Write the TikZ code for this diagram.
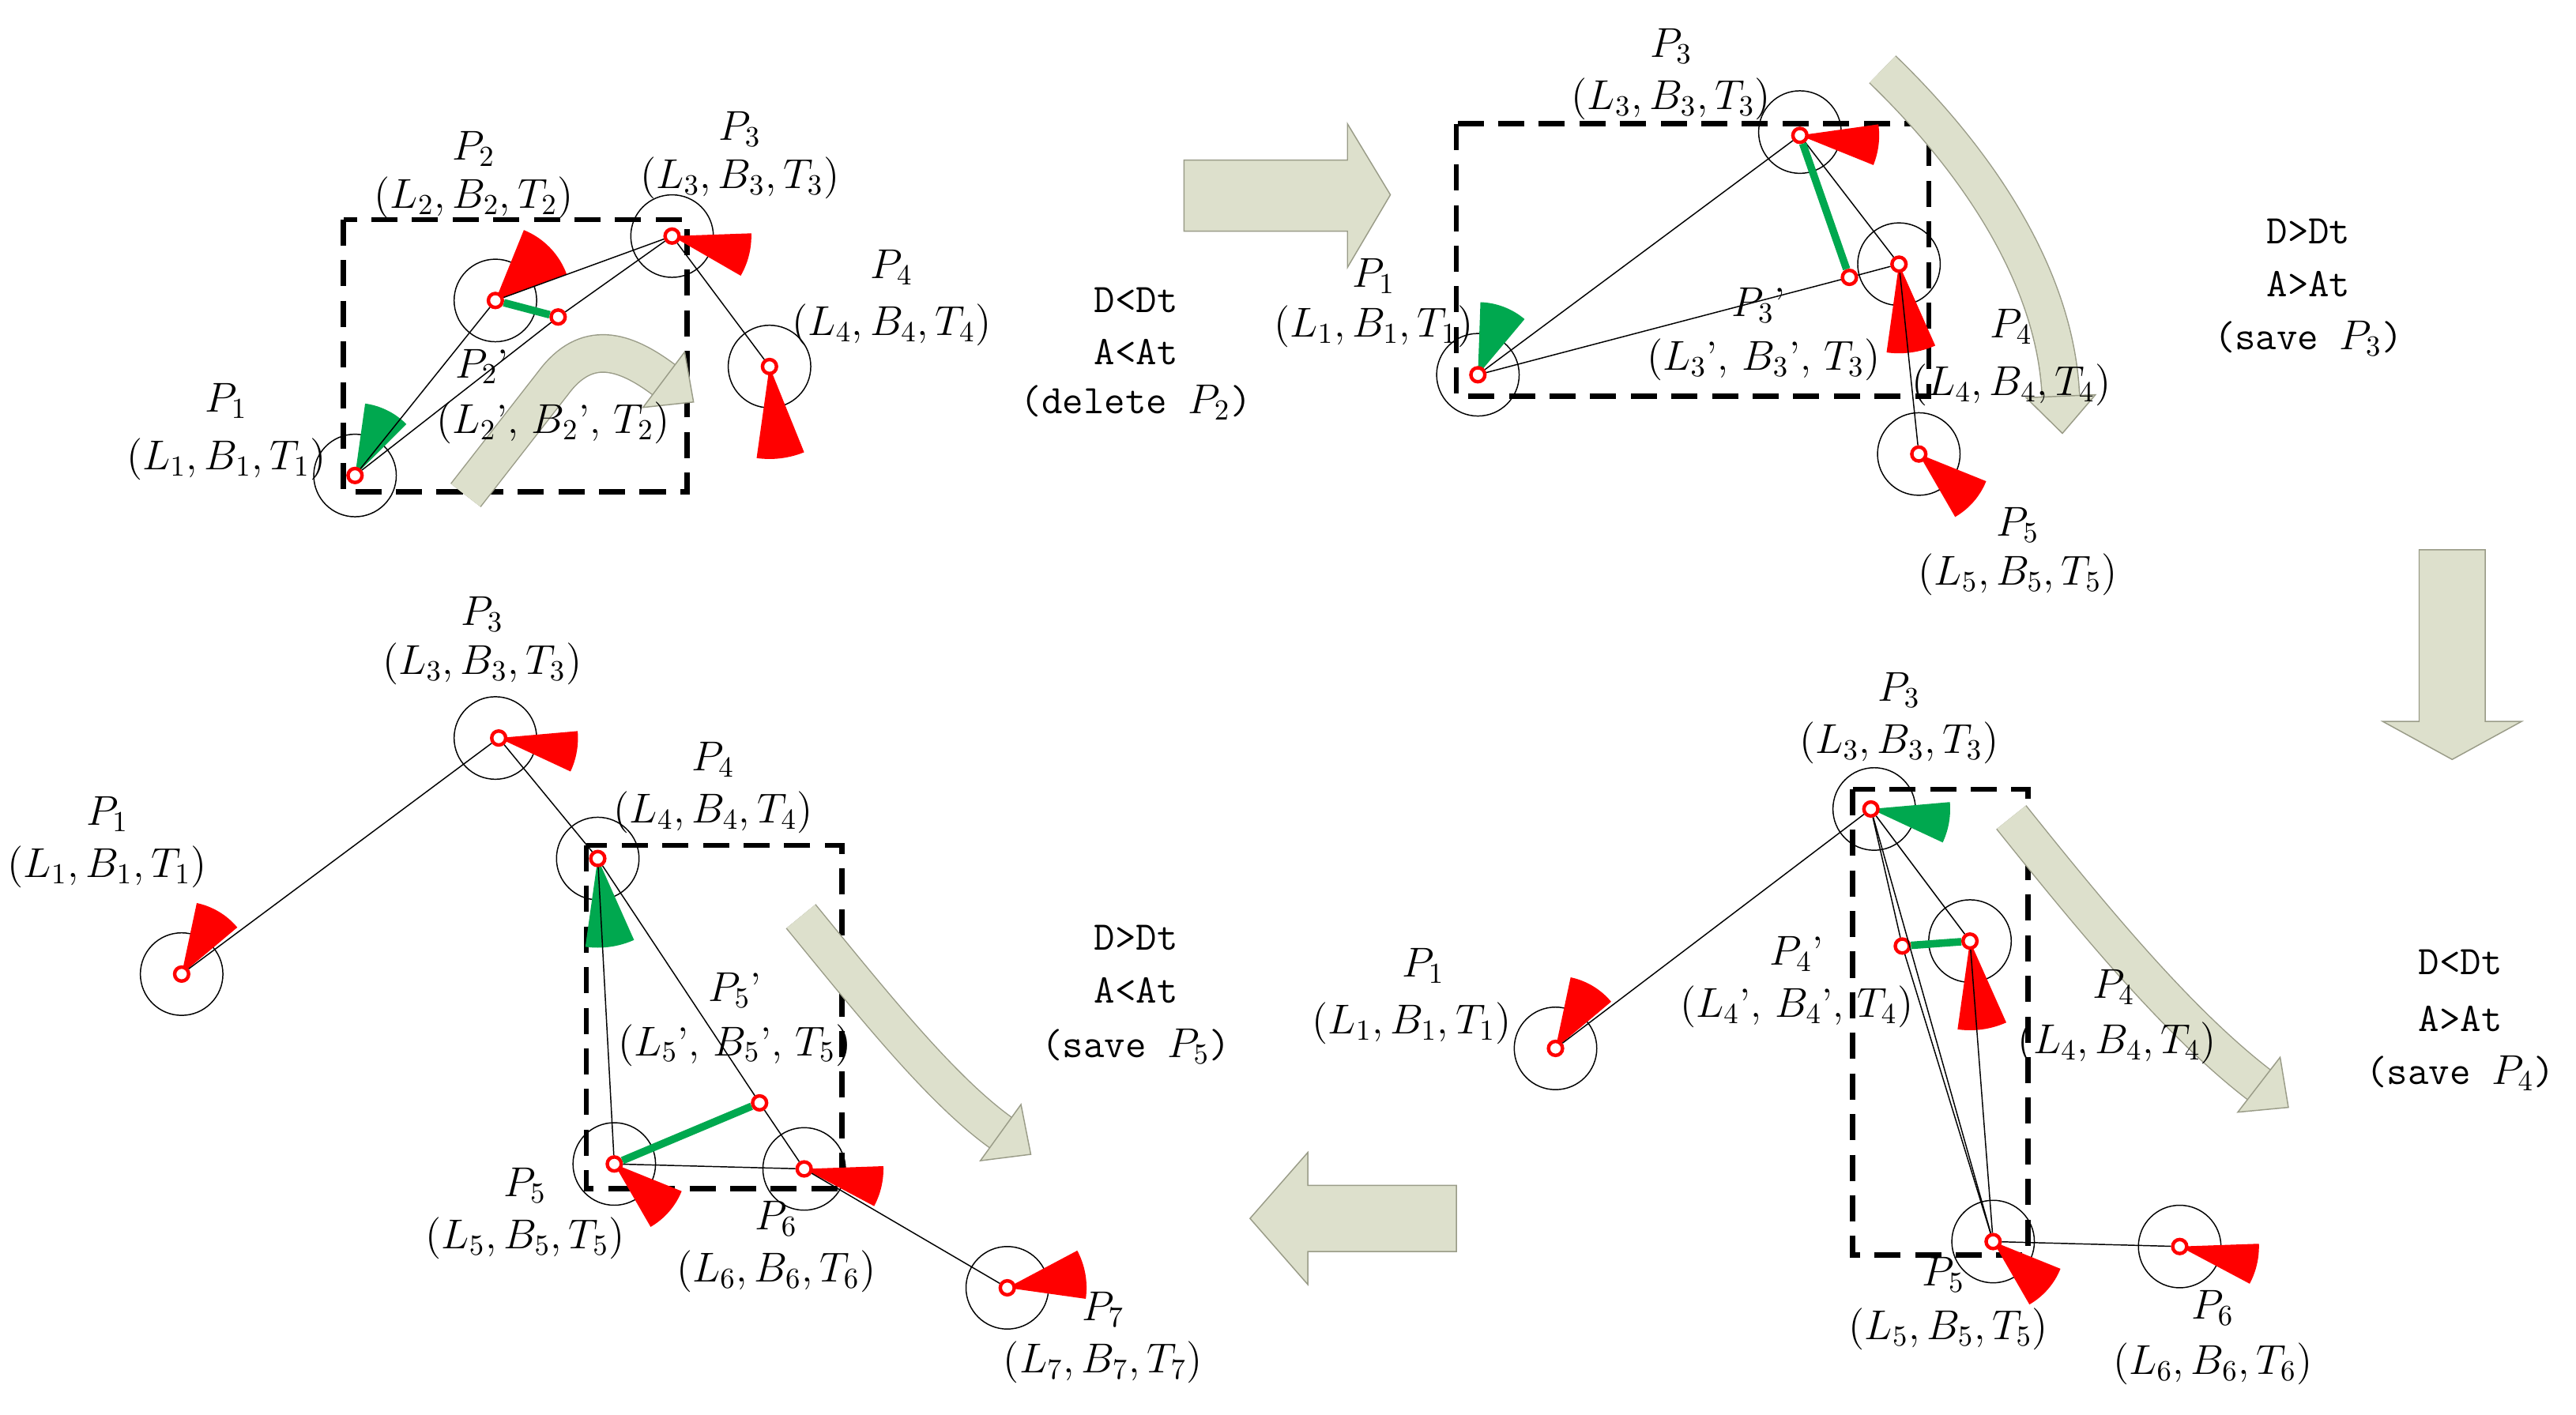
\documentclass[tikz,border=0pt]{standalone}
\usetikzlibrary{calc}
\definecolor{gr}{HTML}{00A84F}
\definecolor{band}{HTML}{DDE0CC}
\definecolor{bandl}{HTML}{9A9C88}
\begin{document}
\begin{tikzpicture}[x=0.02cm,y=0.02cm,
  pt/.style={circle,draw=red,line width=1.2pt,fill=white,inner sep=0pt,minimum size=0.17cm},
  big/.style={circle,draw,thin,inner sep=0pt,minimum size=1.0cm},
  lnk/.style={thin},
  grl/.style={gr,line width=2.6pt},
  box/.style={dashed,line width=1.8pt,dash pattern=on 9pt off 5pt},
  lb/.style={font=\fontsize{14}{17}\selectfont,inner sep=0pt},
  cond/.style={font=\fontsize{14}{17}\selectfont\ttfamily,inner sep=0pt},
  bandp/.style={draw=bandl,double=band,double distance=0.44cm,line width=0.4pt},
  bigarr/.style={fill=band,draw=bandl,line width=0.4pt}]
\useasboundingbox (0,-857) rectangle (1560,0);
\newcommand\wdg[5]{\fill[#1] (#2.center) -- ++(#3:#5) arc[start angle=#3,end angle=#4,radius=#5] -- cycle;}
\newcommand\bandhead[2]{\fill[band,draw=bandl,line width=0.4pt] ($(#1)!0.42cm!90:(#2)$) -- ($(#1)!-0.45cm!(#2)$) -- ($(#1)!0.42cm!-90:(#2)$) -- cycle;}

% ================= Panel 1 =================
\coordinate (aP1) at (215,-288); \coordinate (aP2) at (300,-182);
\coordinate (aQ2) at (338,-192); \coordinate (aP3) at (407,-143);
\coordinate (aP4) at (466,-222);
\draw[box] (208,-133) rectangle (416,-298);
\node[big] (aC1) at (aP1) {}; \node[big] (aC2) at (aP2) {};
\node[big] (aC3) at (aP3) {}; \node[big] (aC4) at (aP4) {};
\coordinate (abE) at (402,-230); \coordinate (abC) at (378,-212);
\draw[bandp] (282,-300) -- (335,-232) .. controls (355,-205) and (378,-212) .. (abE);
\bandhead{abE}{abC}
\wdg{gr}{aP1}{45}{82}{44}
\wdg{red}{aP2}{20}{68}{46}
\wdg{red}{aP3}{-30}{2}{48}
\wdg{red}{aP4}{-98}{-68}{56}
\node[pt] (a1) at (aP1) {}; \node[pt] (a2) at (aP2) {};
\node[pt] (a2p) at (aQ2) {}; \node[pt] (a3) at (aP3) {};
\node[pt] (a4) at (aP4) {};
\draw[lnk] (a1)--(a2); \draw[lnk] (a2)--(a3); \draw[lnk] (a1)--(a2p);
\draw[lnk] (a2p)--(a3); \draw[lnk] (a3)--(a4);
\draw[grl] (a2)--(a2p);
\node[lb] (at1) at (137,-243) {$P_1$};
\node[lb] (at1b) at (137,-278) {$(L_1, B_1, T_1)$};
\node[lb] (at2) at (287,-90) {$P_2$};
\node[lb] (at2b) at (287,-120) {$(L_2, B_2, T_2)$};
\node[lb] (at3) at (448,-78) {$P_3$};
\node[lb] (at3b) at (448,-108) {$(L_3, B_3, T_3)$};
\node[lb] (at4) at (540,-162) {$P_4$};
\node[lb] (at4b) at (540,-197) {$(L_4, B_4, T_4)$};
\node[lb] (at2p) at (292,-222) {$P_2$'};
\node[lb] (at2pb) at (335,-256) {$(L_2$', $B_2$', $T_2)$};
\node[cond] (ac1) at (688,-182) {D<Dt};
\node[cond] (ac2) at (688,-213) {A<At};
\node[cond] (ac3) at (688,-244) {(delete $P_2$)};

\draw[bigarr] (717,-97) -- (816,-97) -- (816,-75) -- (842,-118) -- (816,-162) -- (816,-140) -- (717,-140) -- cycle;

% ================= Panel 2 =================
\coordinate (bP1) at (895,-227); \coordinate (bP3) at (1090,-82);
\coordinate (bQ3) at (1120,-168); \coordinate (bP4) at (1150,-160);
\coordinate (bP5) at (1162,-275);
\node[big] at (bP1) {}; \node[big] at (1090,-80) {};
\node[big] at (bP4) {}; \node[big] at (bP5) {};
\draw[box] (882,-75) rectangle (1168,-240);
\coordinate (bbE) at (1248,-240); \coordinate (bbC) at (1245,-170);
\draw[bandp] (1140,-42) .. controls (1200,-100) and (1245,-170) .. (bbE);
\bandhead{bbE}{bbC}
\wdg{gr}{bP1}{50}{88}{44}
\wdg{red}{bP3}{-22}{8}{48}
\wdg{red}{bP4}{-98}{-66}{54}
\wdg{red}{bP5}{-60}{-22}{44}
\node[pt] (b1) at (bP1) {}; \node[pt] (b3) at (bP3) {};
\node[pt] (b3p) at (bQ3) {}; \node[pt] (b4) at (bP4) {};
\node[pt] (b5) at (bP5) {};
\draw[lnk] (b1)--(b3); \draw[lnk] (b3)--(b4); \draw[lnk] (b1)--(b3p);
\draw[lnk] (b3p)--(b4); \draw[lnk] (b4)--(b5);
\draw[grl] (b3)--(b3p);
\node[lb] at (1012,-28) {$P_3$};
\node[lb] at (1012,-60) {$(L_3, B_3, T_3)$};
\node[lb] at (832,-167) {$P_1$};
\node[lb] at (832,-198) {$(L_1, B_1, T_1)$};
\node[lb] at (1065,-185) {$P_3$'};
\node[lb] at (1068,-218) {$(L_3$', $B_3$', $T_3)$};
\node[lb] at (1218,-198) {$P_4$};
\node[lb] at (1218,-233) {$(L_4, B_4, T_4)$};
\node[lb] at (1222,-318) {$P_5$};
\node[lb] at (1222,-348) {$(L_5, B_5, T_5)$};
\node[cond] at (1398,-140) {D>Dt};
\node[cond] at (1398,-172) {A>At};
\node[cond] at (1398,-205) {(save $P_3$)};

\draw[bigarr] (1465,-333) -- (1505,-333) -- (1505,-437) -- (1527,-437) -- (1485,-460) -- (1443,-437) -- (1465,-437) -- cycle;

% ================= Panel 3 =================
\coordinate (cP1) at (942,-635); \coordinate (cP3) at (1133,-490);
\coordinate (cP4) at (1193,-570); \coordinate (cQ4) at (1152,-573);
\coordinate (cP5) at (1207,-752); \coordinate (cP6) at (1320,-755);
\node[big] at (cP1) {}; \node[big] at (1135,-490) {};
\node[big] at (cP4) {}; \node[big] at (cP5) {}; \node[big] at (cP6) {};
\draw[box] (1122,-478) rectangle (1228,-760);
\coordinate (cbE) at (1368,-657); \coordinate (cbC) at (1320,-620);
\draw[bandp] (1218,-495) .. controls (1270,-560) and (1320,-620) .. (cbE);
\bandhead{cbE}{cbC}
\wdg{gr}{cP3}{-25}{5}{48}
\wdg{red}{cP4}{-98}{-66}{54}
\wdg{red}{cP1}{40}{78}{44}
\wdg{red}{cP5}{-60}{-22}{44}
\wdg{red}{cP6}{-28}{2}{48}
\node[pt] (c1) at (cP1) {}; \node[pt] (c3) at (cP3) {};
\node[pt] (c4) at (cP4) {}; \node[pt] (c4p) at (cQ4) {};
\node[pt] (c5) at (cP5) {}; \node[pt] (c6) at (cP6) {};
\draw[lnk] (c1)--(c3); \draw[lnk] (c3)--(c4); \draw[lnk] (c3)--(c4p);
\draw[lnk] (c4p)--(c5); \draw[lnk] (c4)--(c5); \draw[lnk] (c3)--(c5);
\draw[lnk] (c5)--(c6);
\draw[grl] (c4p)--(c4);
\node[lb] at (1150,-418) {$P_3$};
\node[lb] at (1150,-450) {$(L_3, B_3, T_3)$};
\node[lb] at (1088,-578) {$P_4$'};
\node[lb] at (1088,-610) {$(L_4$', $B_4$', $T_4)$};
\node[lb] at (862,-585) {$P_1$};
\node[lb] at (855,-620) {$(L_1, B_1, T_1)$};
\node[lb] at (1280,-598) {$P_4$};
\node[lb] at (1282,-632) {$(L_4, B_4, T_4)$};
\node[lb] at (1177,-772) {$P_5$};
\node[lb] at (1180,-805) {$(L_5, B_5, T_5)$};
\node[lb] at (1340,-792) {$P_6$};
\node[lb] at (1340,-826) {$(L_6, B_6, T_6)$};
\node[cond] at (1490,-583) {D<Dt};
\node[cond] at (1490,-617) {A>At};
\node[cond] at (1490,-650) {(save $P_4$)};

\draw[bigarr] (882,-718) -- (792,-718) -- (792,-698) -- (757,-738) -- (792,-778) -- (792,-758) -- (882,-758) -- cycle;

% ================= Panel 4 =================
\coordinate (dP1) at (110,-590); \coordinate (dP3) at (302,-447);
\coordinate (dP4) at (362,-520); \coordinate (dQ5) at (460,-668);
\coordinate (dP5) at (372,-705); \coordinate (dP6) at (487,-708);
\coordinate (dP7) at (610,-780);
\node[big] at (dP1) {}; \node[big] at (300,-447) {};
\node[big] at (dP4) {}; \node[big] at (dP5) {}; \node[big] at (dP6) {};
\node[big] at (dP7) {};
\draw[box] (355,-512) rectangle (510,-720);
\coordinate (dbE) at (606,-686); \coordinate (dbC) at (570,-660);
\draw[bandp] (485,-555) .. controls (530,-610) and (570,-660) .. (dbE);
\bandhead{dbE}{dbC}
\wdg{red}{dP1}{40}{78}{44}
\wdg{red}{dP3}{-25}{5}{48}
\wdg{gr}{dP4}{-98}{-66}{54}
\wdg{red}{dP5}{-60}{-22}{44}
\wdg{red}{dP6}{-28}{2}{48}
\wdg{red}{dP7}{-8}{28}{48}
\node[pt] (d1) at (dP1) {}; \node[pt] (d3) at (dP3) {};
\node[pt] (d4) at (dP4) {}; \node[pt] (d5p) at (dQ5) {};
\node[pt] (d5) at (dP5) {}; \node[pt] (d6) at (dP6) {};
\node[pt] (d7) at (dP7) {};
\draw[lnk] (d1)--(d3); \draw[lnk] (d3)--(d4); \draw[lnk] (d4)--(d5);
\draw[lnk] (d4)--(d5p); \draw[lnk] (d5p)--(d6); \draw[lnk] (d5)--(d6);
\draw[lnk] (d6)--(d7);
\draw[grl] (d5)--(d5p);
\node[lb] at (65,-493) {$P_1$};
\node[lb] at (65,-525) {$(L_1, B_1, T_1)$};
\node[lb] at (292,-372) {$P_3$};
\node[lb] at (292,-402) {$(L_3, B_3, T_3)$};
\node[lb] at (432,-460) {$P_4$};
\node[lb] at (432,-492) {$(L_4, B_4, T_4)$};
\node[lb] at (445,-600) {$P_5$'};
\node[lb] at (445,-633) {$(L_5$', $B_5$', $T_5)$};
\node[lb] at (318,-718) {$P_5$};
\node[lb] at (318,-750) {$(L_5, B_5, T_5)$};
\node[lb] at (470,-738) {$P_6$};
\node[lb] at (470,-770) {$(L_6, B_6, T_6)$};
\node[lb] at (668,-793) {$P_7$};
\node[lb] at (668,-825) {$(L_7, B_7, T_7)$};
\node[cond] at (688,-568) {D>Dt};
\node[cond] at (688,-600) {A<At};
\node[cond] at (688,-634) {(save $P_5$)};
\end{tikzpicture}
\end{document}
